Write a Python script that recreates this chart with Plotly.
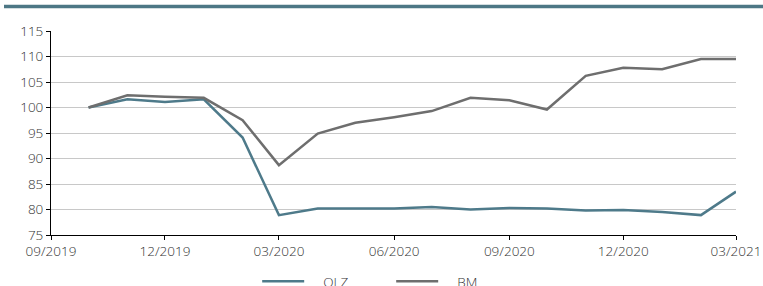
import plotly.graph_objects as go

months = ["2019-10-01", "2019-11-01", "2019-12-01", "2020-01-01", "2020-02-01", "2020-03-01",
          "2020-04-01", "2020-05-01", "2020-06-01", "2020-07-01", "2020-08-01", "2020-09-01",
          "2020-10-01", "2020-11-01", "2020-12-01", "2021-01-01", "2021-02-01", "2021-03-01"]
olz = [100.0, 101.6, 101.1, 101.6, 94.1, 78.9, 80.2, 80.2, 80.2, 80.5, 80.0, 80.3,
       80.2, 79.8, 79.9, 79.5, 78.9, 83.5]
bm = [100.0, 102.4, 102.1, 101.9, 97.5, 88.7, 94.9, 97.0, 98.1, 99.3, 101.9, 101.4,
      99.6, 106.2, 107.8, 107.5, 109.5, 109.5]
series_names = ["OLZ", "BM"]
y_ticks = [75, 80, 85, 90, 95, 100, 105, 110, 115]

pad = "\u00a0" * 4
fig = go.Figure()
fig.add_trace(go.Scatter(x=months, y=olz, mode="lines", name=pad + series_names[0],
                         line=dict(color="#4E7A8A", width=2.5)))
fig.add_trace(go.Scatter(x=months, y=bm, mode="lines", name=pad + series_names[1],
                         line=dict(color="#6E6E6E", width=2.5)))

font_family = "Open Sans, sans-serif"
tick_font = dict(family=font_family, size=13.5, color="#333333", weight=300)
fig.update_layout(
    width=763, height=286,
    margin=dict(l=51, r=27, t=31, b=51, autoexpand=False),
    paper_bgcolor="white", plot_bgcolor="white",
    font=dict(family=font_family, size=13.5, color="#333333", weight=300),
    showlegend=True,
    legend=dict(orientation="h", x=0.301, xanchor="left", y=-0.228, yanchor="middle",
                font=tick_font, itemwidth=42, entrywidth=77,
                tracegroupgap=0),
    xaxis=dict(type="date", range=["2019-09-01", "2021-03-01"],
               tickformat="%m/%Y", dtick="M3", tick0="2019-09-01",
               showgrid=False, showline=True, linecolor="black", linewidth=1,
               ticks="outside", ticklen=4, tickcolor="black",
               tickfont=tick_font, automargin=False),
    yaxis=dict(range=[75, 115], tickvals=y_ticks,
               showgrid=True, gridcolor="#C8C8C8", gridwidth=1,
               showline=True, linecolor="black", linewidth=1,
               ticks="outside", ticklen=4, tickcolor="black",
               zeroline=False, tickfont=tick_font, automargin=False),
)

fig.add_shape(type="line", xref="paper", yref="paper",
              x0=(4 - 51) / 685, x1=(763 - 51) / 685,
              y0=(204 + 31 - 6.5) / 204, y1=(204 + 31 - 6.5) / 204,
              line=dict(color="#4D7785", width=3.5))

fig.write_html("out.html", config={"displayModeBar": False},
               post_script="document.body.style.margin='0';document.body.style.overflow='hidden';")
